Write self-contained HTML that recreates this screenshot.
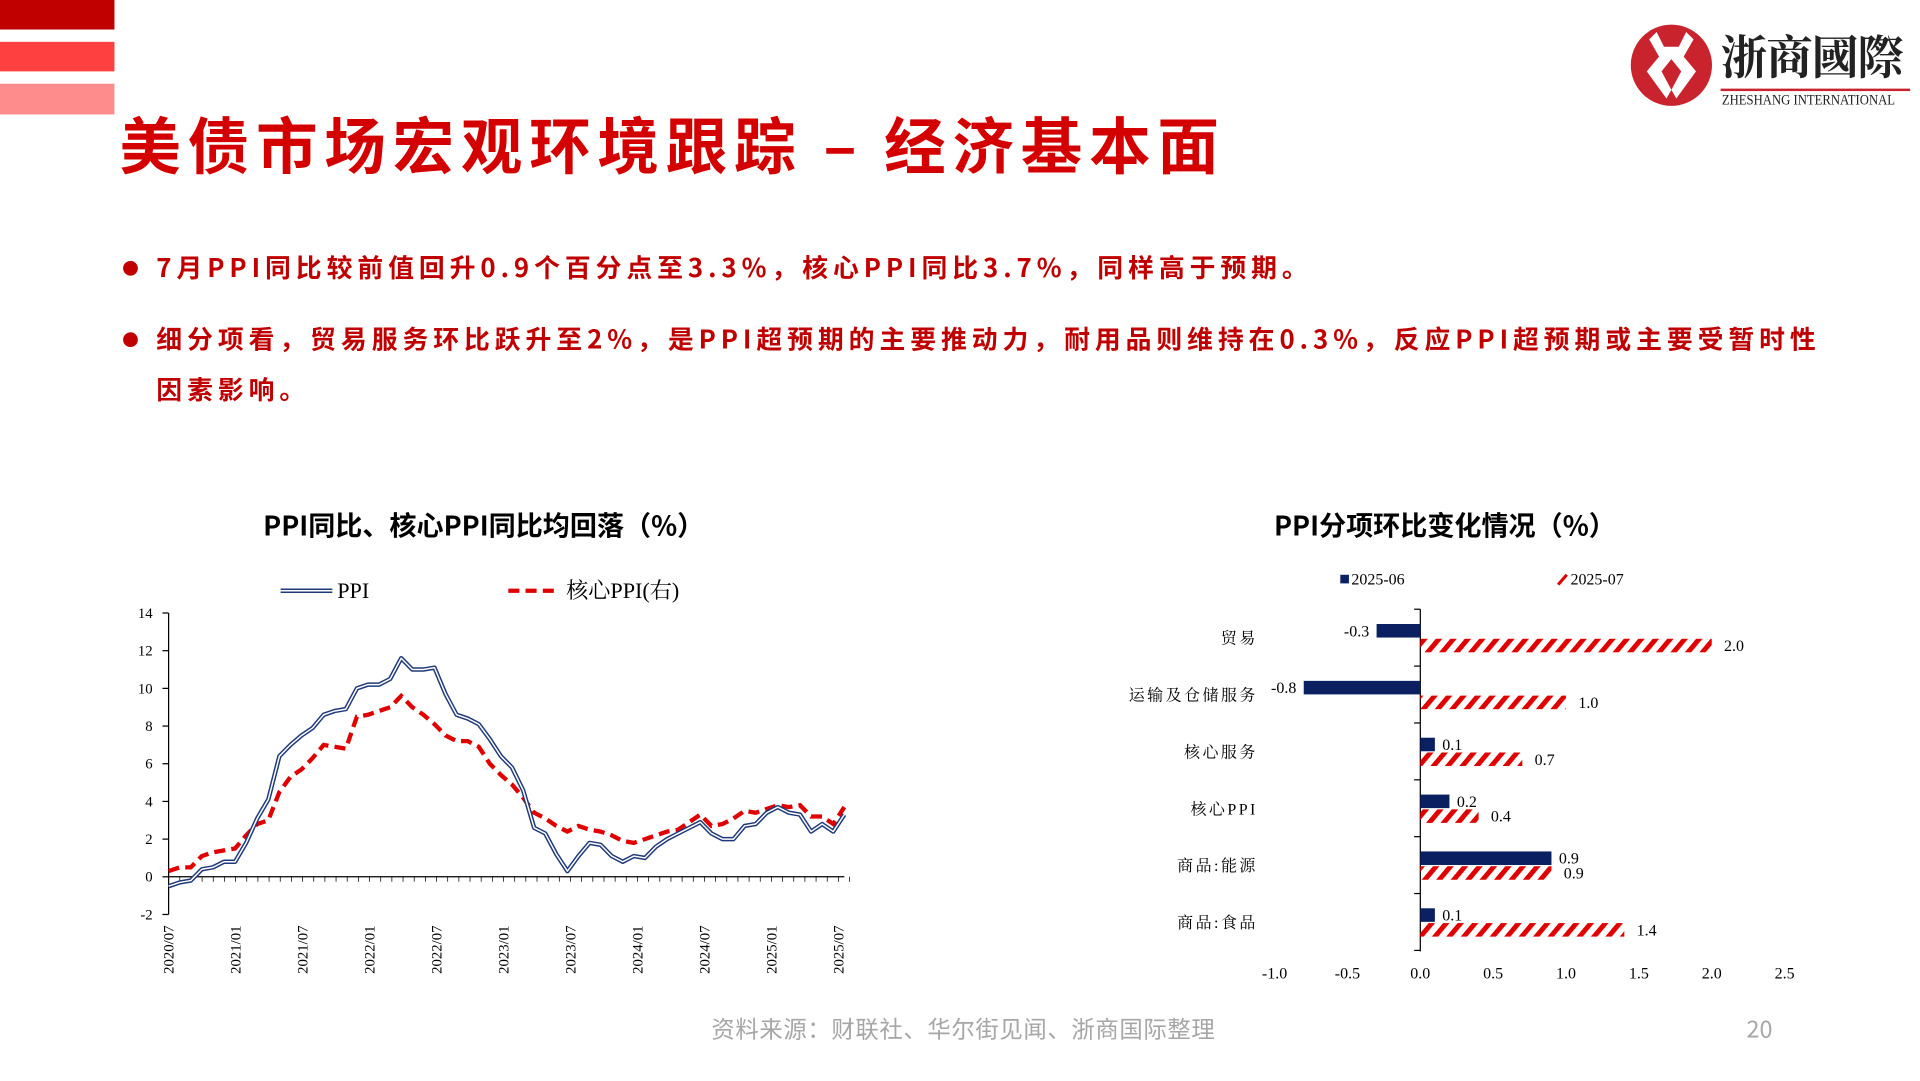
<!DOCTYPE html>
<html><head><meta charset="utf-8">
<style>
html,body{margin:0;padding:0;width:1920px;height:1080px;overflow:hidden;background:#fff}
#stage{position:absolute;left:0;top:0;width:1560px;height:878px;transform:scale(1.230769);transform-origin:0 0;font-family:"Noto Sans CJK SC","Liberation Sans",sans-serif}
.abs{position:absolute}
.bul{position:absolute;left:127px;color:#c00000;font-weight:bold;font-size:21px;letter-spacing:4px;line-height:41px;font-family:"Noto Sans CJK SC",sans-serif}
.dot{position:absolute;left:100px;width:12px;height:12px;border-radius:50%;background:#c00000}
</style></head><body>
<div id="stage">
  <div class="abs" style="left:0;top:0;width:93px;height:24px;background:#c00000"></div>
  <div class="abs" style="left:0;top:34px;width:93px;height:24px;background:#ff4040"></div>
  <div class="abs" style="left:0;top:68px;width:93px;height:25px;background:#ff8c8c"></div>
  <div class="abs" style="left:97px;top:78px;font-size:50px;line-height:76px;font-weight:bold;color:#d40000;white-space:nowrap;letter-spacing:5.5px">美债市场宏观环境跟踪 – 经济基本面</div>

  <div class="abs" style="left:1322px;top:18px;width:232px;height:72px">
    <svg width="232" height="72">
      <circle cx="36" cy="35" r="33" fill="#c9232e"/>
      <path d="M24 8 L30 20 L42 20 L48 8 L54 14 L46 28 L56 40 L40 62 L36 55 L44 40 L36 30 L28 40 L36 55 L32 62 L16 40 L26 28 L18 14 Z" fill="#fff"/>
      <rect x="76" y="54" width="154" height="2" fill="#c9232e"/>
    </svg>
    <div class="abs" style="left:76px;top:-2px;font-size:38px;font-weight:bold;font-family:'Noto Serif CJK SC','Noto Sans CJK TC',serif;color:#222;letter-spacing:-1px;white-space:nowrap">浙商國際</div>
    <div class="abs" style="left:77px;top:56px;font-size:12px;font-family:'Liberation Serif',serif;color:#222;white-space:nowrap;transform:scaleX(0.86);transform-origin:0 0">ZHESHANG INTERNATIONAL</div>
  </div>

  <div class="dot" style="top:212px"></div>
  <div class="bul" style="top:197px;white-space:nowrap">7月PPI同比较前值回升0.9个百分点至3.3%，核心PPI同比3.7%，同样高于预期。</div>
  <div class="dot" style="top:270px"></div>
  <div class="bul" style="top:255px;width:1420px;white-space:nowrap">细分项看，贸易服务环比跃升至2%，是PPI超预期的主要推动力，耐用品则维持在0.3%，反应PPI超预期或主要受暂时性<br>因素影响。</div>

  <div class="abs" style="left:193px;top:410px;width:400px;text-align:center;font-size:22px;font-weight:bold;color:#000;line-height:32px">PPI同比、核心PPI同比均回落（%）</div>
  <div class="abs" style="left:974px;top:410px;width:400px;text-align:center;font-size:22px;font-weight:bold;color:#000;line-height:32px">PPI分项环比变化情况（%）</div>

  <svg id="lc" class="abs" style="left:0;top:-3px" width="760" height="878"></svg>
  <svg id="rc" class="abs" style="left:794px;top:-3px" width="760" height="878"></svg>

  <div class="abs" style="left:578px;top:822px;font-size:19px;color:#a6a6a6;white-space:nowrap;letter-spacing:0.5px">资料来源：财联社、华尔街见闻、浙商国际整理</div>
  <div class="abs" style="left:1419px;top:822px;font-size:19px;color:#a6a6a6">20</div>
</div>
<script>
const ppiValues=[-0.5,-0.3,-0.2,0.4,0.5,0.8,0.8,1.8,3.1,4.1,6.4,7.0,7.5,7.9,8.6,8.8,8.9,10.0,10.2,10.2,10.5,11.6,11.0,11.0,11.1,9.7,8.6,8.4,8.1,7.3,6.4,5.8,4.6,2.6,2.3,1.2,0.3,1.1,1.8,1.7,1.1,0.8,1.1,1.0,1.6,2.0,2.3,2.6,2.9,2.3,2.0,2.0,2.7,2.8,3.4,3.7,3.4,3.3,2.4,2.8,2.4,3.3];
const corePpiValues=[0.3,0.5,0.5,1.1,1.3,1.4,1.5,2.2,2.8,3.0,4.5,5.3,5.7,6.3,7.0,6.9,6.8,8.5,8.6,8.8,9.0,9.6,9.0,8.6,8.1,7.5,7.2,7.2,6.9,6.0,5.4,4.9,4.2,3.4,3.1,2.7,2.4,2.7,2.5,2.4,2.2,1.9,1.8,2.0,2.2,2.4,2.5,2.9,3.3,2.7,2.8,3.1,3.5,3.4,3.6,3.8,3.7,3.8,3.2,3.2,2.8,3.7];
const yTicks=[-2,0,2,4,6,8,10,12,14];
const xTickLabels=["2020/07","2021/01","2021/07","2022/01","2022/07","2023/01","2023/07","2024/01","2024/07","2025/01","2025/07"];
const barCategories=["贸易","运输及仓储服务","核心服务","核心PPI","商品:能源","商品:食品"];
const junValues=[-0.3,-0.8,0.1,0.2,0.9,0.1];
const julValues=[2.0,1.0,0.7,0.4,0.9,1.4];
const barTicks=[-1.0,-0.5,0.0,0.5,1.0,1.5,2.0,2.5];
const NS="http://www.w3.org/2000/svg";
function mk(p,t,a,txt){const e=document.createElementNS(NS,t);for(const k in a)e.setAttribute(k,a[k]);if(txt!==undefined)e.textContent=txt;p.appendChild(e);return e;}
const lc=document.getElementById('lc');
const y=v=>715.4-v*15.31;
const n=ppiValues.length;
const x=i=>137+i*(686-137)/(n-1);
const xm=m=>137+m*9.07;
mk(lc,'line',{x1:137,y1:y(14),x2:137,y2:y(-2),stroke:'#000','stroke-width':1});
yTicks.forEach(v=>{const t=mk(lc,'line',{x1:132,y1:y(v),x2:137,y2:y(v),stroke:'#000'});

const l=mk(lc,'text',{x:124,y:y(v)+4,'text-anchor':'end','font-size':12,'font-family':'Liberation Serif,serif'},v);
});
const xa=mk(lc,'line',{x1:137,y1:y(0),x2:686,y2:y(0),stroke:'#000'});

for(let m=0;m<=61;m++){const t=mk(lc,'line',{x1:xm(m),y1:y(0),x2:xm(m),y2:y(0)+4,stroke:'#000','stroke-width':0.6});}
xTickLabels.forEach((s,i)=>{const px=xm(i*6)+4;const l=mk(lc,'text',{x:0,y:0,'text-anchor':'end','font-size':12,'font-family':'Liberation Serif,serif',transform:`translate(${px},755) rotate(-90)`},s);
});
const ppiPts=ppiValues.map((v,i)=>x(i)+','+y(v)).join(' ');
const cn=corePpiValues.length;const xc=i=>137+i*(686-137)/(cn-1);
const corePts=corePpiValues.map((v,i)=>xc(i)+','+y(v)).join(' ');
const c1=mk(lc,'polyline',{points:corePts,fill:'none',stroke:'#e00000','stroke-width':3.5,'stroke-dasharray':'9,5'});

const p1=mk(lc,'polyline',{points:ppiPts,fill:'none',stroke:'#1f3a7a','stroke-width':3.6,'stroke-linejoin':'round'});

mk(lc,'polyline',{points:ppiPts,fill:'none',stroke:'#fff','stroke-width':1.2,'stroke-linejoin':'round'});
const lg1=mk(lc,'line',{x1:228,y1:483,x2:270,y2:483,stroke:'#1f3a7a','stroke-width':3.6});
mk(lc,'line',{x1:228,y1:483,x2:270,y2:483,stroke:'#fff','stroke-width':1.2});
const lt1=mk(lc,'text',{x:274,y:489,'font-size':18,'font-family':'Liberation Serif,serif'},'PPI');
const lg2=mk(lc,'line',{x1:413,y1:483,x2:455,y2:483,stroke:'#e00000','stroke-width':3.5,'stroke-dasharray':'9,5'});
const lt2=mk(lc,'text',{x:460,y:489,'font-size':18,'font-family':'Liberation Serif,Noto Serif CJK SC,serif'},'核心PPI(右)');
const rc=document.getElementById('rc');
const defs=mk(rc,'defs',{});
const pat=mk(defs,'pattern',{id:'hatch',width:9,height:9,patternUnits:'userSpaceOnUse',patternTransform:'rotate(40)'});
mk(pat,'rect',{x:0,y:0,width:4,height:9,fill:'#e00000'});
const bx=v=>360+v*118.4;
const cy=i=>521+i*46.2;
const ya=mk(rc,'line',{x1:360,y1:498,x2:360,y2:776,stroke:'#000'});
for(let i=0;i<=barCategories.length;i++){const t=mk(rc,'line',{x1:355,y1:498+i*46.2,x2:360,y2:498+i*46.2,stroke:'#000'});}
barCategories.forEach((c,i)=>{
 const l=mk(rc,'text',{x:228,y:cy(i)+5,'text-anchor':'end','font-size':13,'font-family':'Liberation Serif,Noto Serif CJK SC,serif','letter-spacing':'2'},c);
 const a=junValues[i],b=julValues[i];
 const r1=mk(rc,'rect',{x:Math.min(bx(0),bx(a)),y:cy(i)-11,width:Math.abs(bx(a)-bx(0)),height:11,fill:'#0a2060'});
 const r2=mk(rc,'rect',{x:Math.min(bx(0),bx(b)),y:cy(i)+1,width:Math.abs(bx(b)-bx(0)),height:11,fill:'url(#hatch)'});
 const t1=mk(rc,'text',{x:a<0?bx(a)-6:bx(a)+6,y:cy(i)-1,'text-anchor':a<0?'end':'start','font-size':13,'font-family':'Liberation Serif,serif'},a.toFixed(1));
 const t2=mk(rc,'text',{x:bx(b)+10,y:cy(i)+11,'font-size':13,'font-family':'Liberation Serif,serif'},b.toFixed(1));
});
barTicks.forEach(v=>{const l=mk(rc,'text',{x:bx(v),y:798,'text-anchor':'middle','font-size':13,'font-family':'Liberation Serif,serif'},v.toFixed(1));});
const s1=mk(rc,'rect',{x:295,y:470,width:7,height:7,fill:'#0a2060'});
const st1=mk(rc,'text',{x:304,y:478,'font-size':13,'font-family':'Liberation Serif,serif'},'2025-06');
const s2=mk(rc,'line',{x1:472,y1:478,x2:479,y2:470,stroke:'#e00000','stroke-width':2.5});
const st2=mk(rc,'text',{x:482,y:478,'font-size':13,'font-family':'Liberation Serif,serif'},'2025-07');
</script>
</body></html>
